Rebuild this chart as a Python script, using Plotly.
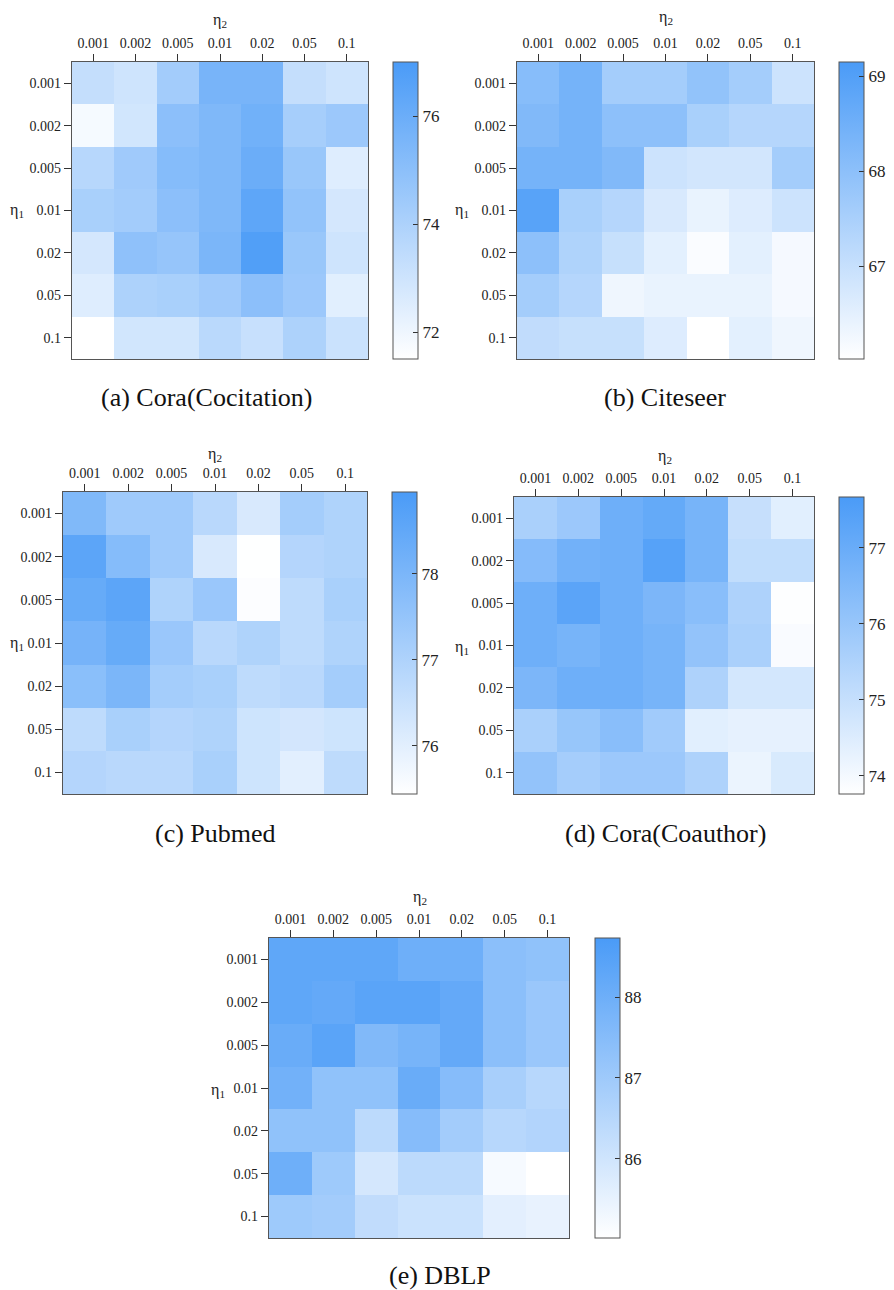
import plotly.graph_objects as go

W, H = 894, 1290

eta_labels = ["0.001", "0.002", "0.005", "0.01", "0.02", "0.05", "0.1"]

cora_cocitation = [
    [73.3, 73.0, 74.3, 75.6, 75.6, 73.3, 73.0],
    [71.8, 72.9, 75.0, 75.4, 75.8, 74.2, 74.5],
    [73.7, 74.4, 75.2, 75.4, 76.0, 74.6, 72.5],
    [74.1, 74.3, 75.0, 75.4, 76.4, 74.8, 72.8],
    [72.8, 74.9, 74.7, 75.5, 76.8, 74.6, 73.0],
    [72.5, 74.0, 74.1, 74.4, 75.0, 74.5, 72.4],
    [71.5, 72.9, 72.9, 73.6, 73.2, 74.0, 73.1],
]
citeseer = [
    [68.1, 68.4, 67.6, 67.6, 67.9, 67.6, 66.9],
    [68.2, 68.4, 68.0, 68.0, 67.5, 67.3, 67.3],
    [68.4, 68.4, 68.2, 66.9, 66.8, 66.8, 67.6],
    [68.9, 67.5, 67.3, 66.7, 66.4, 66.6, 66.9],
    [68.0, 67.4, 67.0, 66.5, 66.1, 66.5, 66.2],
    [67.6, 67.3, 66.3, 66.4, 66.4, 66.4, 66.2],
    [67.1, 67.0, 67.0, 66.6, 66.0, 66.5, 66.3],
]
pubmed = [
    [77.9, 77.3, 77.3, 76.8, 76.2, 77.2, 77.0],
    [78.6, 77.8, 77.3, 76.2, 75.45, 76.9, 77.0],
    [78.4, 78.6, 77.0, 77.4, 75.5, 76.7, 77.1],
    [78.1, 78.4, 77.4, 76.8, 77.0, 76.7, 77.0],
    [77.7, 78.0, 77.2, 77.1, 76.7, 76.8, 77.2],
    [76.7, 77.1, 76.9, 77.0, 76.4, 76.3, 76.4],
    [76.9, 76.8, 76.8, 77.1, 76.4, 76.0, 76.7],
]
cora_coauthor = [
    [75.6, 75.9, 76.9, 77.1, 76.7, 75.0, 74.4],
    [76.4, 76.8, 76.9, 77.4, 76.7, 75.1, 75.1],
    [76.9, 77.3, 76.9, 76.6, 76.3, 75.5, 73.8],
    [76.9, 76.7, 76.9, 76.7, 76.1, 75.6, 73.9],
    [76.6, 76.9, 76.9, 76.7, 75.5, 74.7, 74.7],
    [75.6, 76.0, 76.3, 75.8, 74.4, 74.3, 74.3],
    [76.1, 75.7, 75.9, 75.9, 75.5, 74.2, 74.6],
]
dblp = [
    [88.3, 88.3, 88.3, 88.0, 88.0, 87.4, 87.3],
    [88.3, 88.2, 88.4, 88.4, 88.2, 87.4, 87.1],
    [88.1, 88.4, 87.6, 87.8, 88.2, 87.4, 87.1],
    [87.9, 87.3, 87.3, 88.1, 87.5, 86.8, 86.5],
    [87.3, 87.3, 86.4, 87.5, 86.9, 86.5, 86.6],
    [88.0, 87.0, 85.9, 86.4, 86.4, 85.2, 85.02],
    [87.0, 86.9, 86.3, 86.1, 86.1, 85.6, 85.5],
]

captions = ["(a) Cora(Cocitation)", "(b) Citeseer", "(c) Pubmed", "(d) Cora(Coauthor)", "(e) DBLP"]
z_min = [71.5, 66.02, 75.44, 73.76, 85.02]
z_max = [77.0, 69.15, 78.95, 77.67, 88.73]
cbar_ticks = [[72, 74, 76], [67, 68, 69], [76, 77, 78], [74, 75, 76, 77], [86, 87, 88]]
datasets = [cora_cocitation, citeseer, pubmed, cora_coauthor, dblp]

# layout in pixels: heatmap box (x0, x1, y0, y1), colorbar x0
boxes = [
    (72, 368, 62, 359, 393),
    (517, 814, 62, 359, 839),
    (63, 367, 492, 794, 392),
    (514, 814, 497, 794, 839),
    (269, 569, 938, 1238, 595),
]
eta2_pos = [(220, 20), (666, 18), (215, 455), (665, 457), (420, 898)]
eta1_pos = [(17, 211), (462, 211), (17, 643), (462, 647), (218, 1090)]
cap_pos = [(207, 397), (665, 397), (215, 834), (665, 834), (440, 1275)]

def px(x):
    return x / W

def py(y):
    return 1 - y / H

colorscale = [[0, "#ffffff"], [1, "rgb(74,155,247)"]]
serif = "Liberation Serif"

fig = go.Figure()
annotations = []
for i, (z, box) in enumerate(zip(datasets, boxes)):
    x0, x1, y0, y1, cx = box
    n = "" if i == 0 else str(i + 1)
    fig.add_trace(go.Heatmap(
        z=z, x=eta_labels, y=eta_labels,
        xaxis="x" + n, yaxis="y" + n,
        colorscale=colorscale, zmin=z_min[i], zmax=z_max[i],
        colorbar=dict(
            x=px(cx), xanchor="left", xpad=0, ypad=0,
            y=(py(y0) + py(y1)) / 2, yanchor="middle",
            len=(y1 - y0) / H, lenmode="fraction",
            thickness=25, thicknessmode="pixels",
            outlinewidth=1, outlinecolor="#555",
            tickvals=cbar_ticks[i], ticks="inside", ticklen=5, tickcolor="#333",
            tickfont=dict(family=serif, size=17, color="#222"),
        ),
    ))
    fig.layout["xaxis" + n] = dict(
        domain=[px(x0), px(x1)], anchor="y" + n, side="top",
        type="category", ticks="outside", ticklen=7, tickcolor="#333",
        showline=True, mirror=True, linecolor="#555", linewidth=1.2,
        tickfont=dict(family=serif, size=14, color="#222"), showgrid=False,
    )
    fig.layout["yaxis" + n] = dict(
        domain=[py(y1), py(y0)], anchor="x" + n,
        type="category", autorange="reversed", ticks="outside", ticklen=7, tickcolor="#333",
        showline=True, mirror=True, linecolor="#555", linewidth=1.2,
        tickfont=dict(family=serif, size=14, color="#222"), showgrid=False,
    )
    common = dict(xref="paper", yref="paper", showarrow=False, xanchor="center", yanchor="middle")
    ex, ey = eta2_pos[i]
    annotations.append(dict(x=px(ex), y=py(ey), text="η<sub>2</sub>",
                            font=dict(family=serif, size=16, color="#222"), **common))
    ex, ey = eta1_pos[i]
    annotations.append(dict(x=px(ex), y=py(ey), text="η<sub>1</sub>",
                            font=dict(family=serif, size=16, color="#222"), **common))
    cx_, cy_ = cap_pos[i]
    annotations.append(dict(x=px(cx_), y=py(cy_), text=captions[i],
                            font=dict(family=serif, size=26, color="#111"), **common))

fig.update_layout(
    width=W, height=H, margin=dict(l=0, r=0, t=0, b=0),
    paper_bgcolor="white", plot_bgcolor="white",
    annotations=annotations,
)
fig.write_html("out.html", config={"displayModeBar": False},
               post_script="document.body.style.margin='0px';document.body.style.overflow='hidden';")
